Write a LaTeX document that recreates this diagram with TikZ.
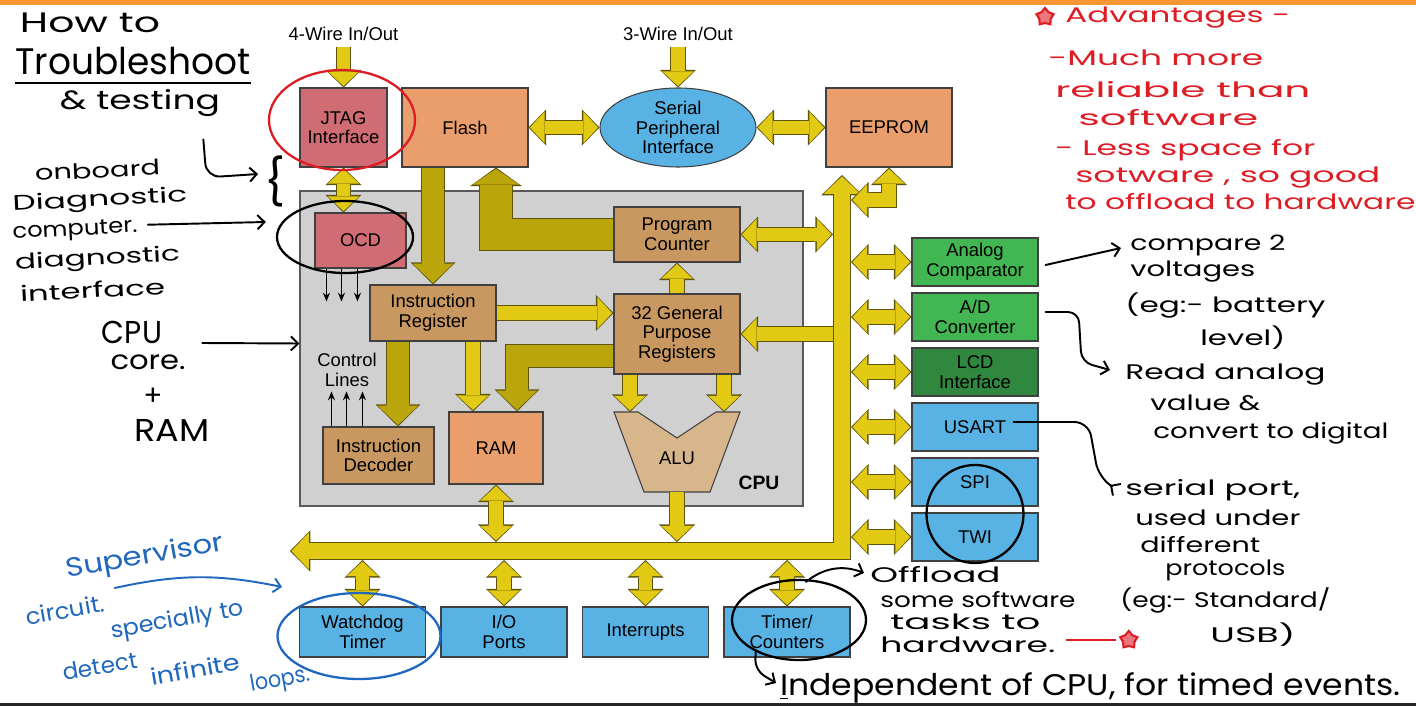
\documentclass[tikz,border=0pt]{standalone}
\usepackage{fontspec}
\usepackage{graphicx}
\setmainfont{Liberation Sans}
\newfontfamily\hand{Poppins}
\usetikzlibrary{arrows.meta,calc,shapes.geometric,positioning}
\definecolor{topbar}{RGB}{247,150,52}
\definecolor{arrowfill}{RGB}{226,201,20}
\definecolor{arrowdark}{RGB}{186,166,12}
\definecolor{arrowedge}{RGB}{95,85,10}
\definecolor{debugred}{RGB}{208,108,115}
\definecolor{memorange}{RGB}{234,158,108}
\definecolor{regtan}{RGB}{200,152,96}
\definecolor{alutan}{RGB}{216,182,140}
\definecolor{perblue}{RGB}{88,178,228}
\definecolor{anagreen}{RGB}{66,182,82}
\definecolor{lcdgreen}{RGB}{48,135,62}
\definecolor{cpugrey}{RGB}{208,208,208}
\definecolor{annored}{RGB}{222,28,36}
\definecolor{annoblue}{RGB}{32,104,190}
\newcommand\hw[2]{\resizebox{#1}{\height}{#2}}
\begin{document}
\begin{tikzpicture}[
      % --- BLOCK STYLES ---
      every node/.style={font=\fontsize{10.5}{11.2}\selectfont},
      blk/.style={rectangle, draw=black!75, line width=0.6pt, align=center, inner sep=1pt, minimum width=2.52cm},
      dbg/.style={blk, fill=debugred},
      mem/.style={blk, fill=memorange, minimum height=1.58cm},
      reg/.style={blk, fill=regtan},
      per/.style={blk, fill=perblue, minimum height=0.96cm},
      ana/.style={blk, fill=anagreen, minimum height=0.96cm},
      low/.style={blk, fill=perblue, minimum height=1.0cm},
      %
      % --- YELLOW DATA PATHS ---
      yhead/.tip={Triangle[width=18pt,length=8.4pt,line width=0pt]},
      yrim/.tip={Triangle[width=20.6pt,length=10pt,line width=0pt]},
      thead/.tip={Triangle[width=23pt,length=11pt,line width=0pt]},
      trim/.tip={Triangle[width=25.6pt,length=12.6pt,line width=0pt]},
      whead/.tip={Triangle[width=27pt,length=9pt,line width=0pt]},
      wrim/.tip={Triangle[width=29.6pt,length=10.6pt,line width=0pt]},
      bhead/.tip={Triangle[width=21pt,length=10pt,line width=0pt]},
      brim/.tip={Triangle[width=23.6pt,length=11.6pt,line width=0pt]},
      pipe/.style={line cap=butt, line join=miter},
      flow/.style={pipe, line width=7.6pt, draw=arrowfill, -yhead, shorten >=0.8pt,
        preaction={draw=arrowedge, line width=8.8pt, shorten >=0pt, -yrim}},
      flow2/.style={pipe, line width=7.6pt, draw=arrowfill, yhead-yhead, shorten >=0.8pt, shorten <=0.8pt,
        preaction={draw=arrowedge, line width=8.8pt, shorten >=0pt, shorten <=0pt, yrim-yrim}},
      heavy/.style={pipe, line width=12.5pt, draw=arrowdark, -thead, shorten >=0.8pt,
        preaction={draw=arrowedge, line width=13.7pt, shorten >=0pt, -trim}},
      wide/.style={pipe, line width=18pt, draw=arrowdark, -whead, shorten >=0.8pt,
        preaction={draw=arrowedge, line width=19.2pt, shorten >=0pt, -wrim}},
      bus/.style={pipe, line width=9pt, draw=arrowfill, bhead-bhead, shorten >=0.8pt, shorten <=0.8pt,
        preaction={draw=arrowedge, line width=10.2pt, shorten >=0pt, shorten <=0pt, brim-brim}},
      wire/.style={draw=black, line width=0.7pt, -{Stealth[length=5pt,width=4pt]}},
      %
      % --- HAND NOTES ---
      ink/.style={font=\hand\fontsize{#1}{#1}\selectfont, inner sep=0pt, text=black},
      redink/.style={ink=#1, text=annored},
      blueink/.style={ink=#1, text=annoblue},
      pen/.style={draw=black, line width=1.1pt, line cap=round, -{Straight Barb[length=4pt,width=8pt]}},
      bluepen/.style={pen, draw=annoblue},
      ring/.style={ellipse, draw=#1, line width=1.3pt, inner sep=0pt}
  ]
    \useasboundingbox (0,0) rectangle (28.32,-14.12);
    \fill[white] (0,0) rectangle (28.32,-14.12);
    \fill[topbar] (0,0) rectangle (28.32,-0.1);
    \fill[black!85] (0,-14.06) rectangle (28.32,-14.12);
    %
    % 1. Outer blocks
    \node (wire4) at (6.87,-0.68) {4-Wire In/Out};
    \node (wire3) at (13.56,-0.68) {3-Wire In/Out};
    \node[dbg, minimum width=1.74cm, minimum height=1.58cm] (jtag) at (6.87,-2.55) {JTAG\\Interface};
    \node[mem] (flash) at (9.30,-2.55) {Flash};
    \node[ellipse, draw=black!75, line width=0.6pt, fill=perblue, minimum width=3.12cm, minimum height=1.58cm, inner sep=0pt, align=center] (spi) at (13.56,-2.55) {Serial\\Peripheral\\Interface};
    \node[mem] (eeprom) at (17.78,-2.55) {EEPROM};
    %
    % 2. CPU core
    \node[rectangle, draw=black!65, line width=0.8pt, fill=cpugrey, minimum width=10.06cm, minimum height=6.3cm] (cpu) at (11.03,-6.97) {};
    \node[dbg, minimum width=1.82cm, minimum height=1.1cm] (ocd) at (7.21,-4.81) {OCD};
    \node[reg, minimum height=1.1cm] (pc) at (13.54,-4.69) {Program\\Counter};
    \node[reg, minimum height=1.12cm] (ir) at (8.66,-6.26) {Instruction\\Register};
    \node[reg, minimum height=1.6cm] (gpr) at (13.54,-6.68) {32 General\\Purpose\\Registers};
    \node[reg, minimum width=2.22cm, minimum height=1.14cm] (id) at (7.57,-9.11) {Instruction\\Decoder};
    \node[blk, fill=memorange, minimum width=1.88cm, minimum height=1.44cm] (ram) at (9.92,-8.96) {RAM};
    \node[align=center] (ctrl) at (6.94,-7.40) {Control\\Lines};
    \filldraw[draw=black!75, line width=0.6pt, fill=alutan] (12.28,-8.24) -- (12.76,-8.24) -- (13.54,-8.76) -- (14.32,-8.24) -- (14.80,-8.24) -- (14.20,-9.84) -- (12.88,-9.84) -- cycle;
    \node (alu) at (13.54,-9.16) {ALU};
    \coordinate (alutop) at (13.54,-8.24);
    \coordinate (alubot) at (13.54,-9.84);
    \node[font=\bfseries\fontsize{11}{12}\selectfont] (cpulabel) at (15.18,-9.66) {CPU};
    %
    % 3. Peripherals
    \node[ana] (ac) at (19.50,-5.24) {Analog\\Comparator};
    \node[ana] (adc) at (19.50,-6.34) {A/D\\Converter};
    \node[ana, fill=lcdgreen] (lcd) at (19.50,-7.44) {LCD\\Interface};
    \node[per] (usart) at (19.50,-8.54) {USART};
    \node[per] (spiport) at (19.50,-9.64) {SPI};
    \node[per] (twi) at (19.50,-10.74) {TWI};
    \node[low] (wdt) at (7.25,-12.64) {Watchdog\\Timer};
    \node[low] (io) at (10.08,-12.64) {I/O\\Ports};
    \node[low] (irq) at (12.91,-12.64) {Interrupts};
    \node[low] (timer) at (15.74,-12.64) {Timer/\\Counters};
    %
    % 4. Main bus
    \coordinate (busleft) at (5.80,-11.02);
    \coordinate (buscorner) at (16.84,-11.02);
    \coordinate (bustop) at (16.84,-3.50);
    \coordinate (busL) at (16.66,-3.50);
    \coordinate (busR) at (17.02,-3.50);
    \coordinate (busT) at (5.80,-10.84);
    \coordinate (busB) at (5.80,-11.20);
    \draw[bus] (busleft) -- (buscorner) -- (bustop);
    %
    % 5. Links outside the core
    \draw[flow] (wire4.south) -- (jtag.north);
    \draw[flow] (wire3.south) -- (spi.north);
    \draw[flow2] (jtag.south) -- (jtag.south |- ocd.north);
    \draw[flow2] (flash.east) -- (spi.west);
    \draw[flow2] (spi.east) -- (eeprom.west);
    \coordinate (eetap) at (17.02,-4.0);
    \draw[flow2] (eetap) -| (eeprom.south);
    %
    % 6. Links inside the core
    \draw[heavy] (ir.north |- flash.south) -- (ir.north);
    \draw[wide] (pc.west) -| ($(flash.south)+(0.62,0)$);
    \draw[flow] (pc.south |- gpr.north) -- (pc.south);
    \draw[flow] (ir.east) -- (ir.east -| gpr.west);
    \draw[heavy] ($(ir.south)+(-0.7,0)$) coordinate (irtapA) -- (irtapA |- id.north);
    \draw[flow] ($(ir.south)+(0.8,0)$) coordinate (irtapB) -- (irtapB |- ram.north);
    \draw[heavy] ($(gpr.west)+(0,-0.44)$) -| ($(ram.north)+(0.42,0)$);
    \draw[flow] ($(gpr.south)+(-0.94,0)$) coordinate (gtapA) -- (gtapA |- alutop);
    \draw[flow] ($(gpr.south)+(0.94,0)$) coordinate (gtapB) -- (gtapB |- alutop);
    \draw[flow] (alubot) -- (alubot |- busT);
    \draw[flow2] (ram.south) -- (ram.south |- busT);
    \draw[flow2] (pc.east) -- (pc.east -| busL);
    \draw[flow] (gpr.east -| busL) -- (gpr.east);
    \foreach \dx in {0.24,0.54,0.86}
      \draw[wire] ($(ocd.south west)+(\dx,0)$) -- ++(0,-0.66);
    \foreach \dx in {0.18,0.48,0.80}
      \draw[wire] ($(id.north west)+(\dx,0)$) -- ++(0,0.7);
    %
    % 7. Links to peripherals
    \foreach \p in {ac,adc,lcd,usart,spiport,twi}
      \draw[flow2] (\p.west -| busR) -- (\p.west);
    \foreach \p in {wdt,io,irq,timer}
      \draw[flow2] (\p.north |- busB) -- (\p.north);
    %
    % 8. Hand notes, left
    \node[ink=16] (howto) at (1.8,-0.46) {\hw{2.8cm}{How to}};
    \node[ink=21] (trouble) at (2.66,-1.22) {\hw{4.7cm}{Troubleshoot}};
    \draw[draw=black, line width=1.2pt] ($(trouble.south west)+(0,-0.16)$) -- ($(trouble.south east)+(0,-0.16)$);
    \node[ink=15] (testing) at (2.8,-2.06) {\hw{3.2cm}{\& testing}};
    \node[ink=26] (brace) at (5.5,-3.62) {\{};
    \draw[pen, rounded corners=8pt] ($(testing.south east)+(-0.34,-0.45)$) -- ++(0.06,-0.76) -- ($(brace.west)+(-0.12,0.14)$);
    \node[ink=12, rotate=3] (onboard) at (1.95,-3.4) {\hw{2.5cm}{onboard}};
    \node[ink=12, rotate=3] (diag) at (2.0,-4.02) {\hw{3.5cm}{Diagnostic}};
    \node[ink=12, rotate=3] (computer) at (1.5,-4.62) {\hw{2.5cm}{computer.}};
    \node[ink=12, rotate=3] (diag2) at (1.95,-5.2) {\hw{3.3cm}{diagnostic}};
    \node[ink=12, rotate=3] (iface) at (1.85,-5.8) {\hw{2.9cm}{interface}};
    \node[ring=black, minimum width=2.72cm, minimum height=1.44cm] (ocdring) at (6.90,-4.74) {};
    \node[ring=annored, minimum width=2.92cm, minimum height=2.0cm] (jtagring) at (6.84,-2.40) {};
    \draw[pen] ($(computer.east)+(0.2,0.06)$) -- ($(ocdring.west)+(-0.2,0.3)$);
    \node[ink=18] (cpunote) at (2.64,-6.64) {\hw{1.2cm}{CPU}};
    \node[ink=15] (core) at (2.96,-7.24) {\hw{1.5cm}{core.}};
    \node[ink=16] (plus) at (3.06,-7.94) {+};
    \node[ink=18] (ramnote) at (3.44,-8.6) {\hw{1.5cm}{RAM}};
    \draw[pen] ($(cpunote.east)+(0.8,-0.22)$) -- ($(cpu.west)+(0,0.1)$);
    %
    % 9. Hand notes, bottom left (blue)
    \node[blueink=15, rotate=10] (superv) at (2.9,-11.15) {\hw{3.2cm}{Supervisor}};
    \node[blueink=13, rotate=10] (circuit) at (1.3,-12.2) {\hw{1.6cm}{circuit.}};
    \node[blueink=13, rotate=10] (special) at (3.55,-12.42) {\hw{2.7cm}{specially to}};
    \node[blueink=13, rotate=10] (detect) at (2.0,-13.32) {\hw{1.5cm}{detect}};
    \node[blueink=13, rotate=10] (infinite) at (3.9,-13.38) {\hw{1.8cm}{infinite}};
    \node[blueink=13, rotate=10] (loops) at (5.6,-13.62) {\hw{1.2cm}{loops.}};
    \node[ring=annoblue, minimum width=3.26cm, minimum height=1.72cm] (wdtring) at (7.18,-12.72) {};
    \coordinate (supvtip) at (5.64,-11.74);
    \draw[bluepen] ($(circuit.east)+(0.2,0.3)$) to[bend left=12] (supvtip);
    %
    % 10. Hand notes, right (red)
    \node[star, star points=5, draw=annored, line width=1.2pt, fill=annored!60, minimum size=0.36cm, inner sep=0pt] (star1) at (20.9,-0.34) {};
    \node[redink=12, anchor=west] (adv) at (21.3,-0.36) {\hw{4.5cm}{Advantages -}};
    \node[redink=12, anchor=west] (adv1) at (20.96,-1.16) {\hw{4.3cm}{-Much more}};
    \node[redink=12, anchor=west] (adv2) at (21.1,-1.8) {\hw{5.1cm}{reliable than}};
    \node[redink=12, anchor=west] (adv3) at (21.56,-2.36) {\hw{3.6cm}{software}};
    \node[redink=12, anchor=west] (adv4) at (21.1,-3.0) {\hw{5.2cm}{- Less space for}};
    \node[redink=12, anchor=west] (adv5) at (21.5,-3.56) {\hw{6.1cm}{sotware , so good}};
    \node[redink=12, anchor=west] (adv6) at (21.3,-4.04) {\hw{7.0cm}{to offload to hardware}};
    %
    % 11. Hand notes, right (black)
    \node[ink=12, anchor=west] (cmp1) at (22.6,-4.9) {\hw{3.1cm}{compare 2}};
    \node[ink=12, anchor=west] (cmp2) at (22.6,-5.44) {\hw{2.5cm}{voltages}};
    \node[ink=12, anchor=west] (cmp3) at (22.5,-6.1) {\hw{4.0cm}{(eg:- battery}};
    \node[ink=12, anchor=west] (cmp4) at (24.0,-6.76) {\hw{1.7cm}{level)}};
    \draw[pen] ($(ac.east)+(0.14,-0.06)$) -- ($(cmp1.west)+(-0.18,-0.06)$);
    \node[ink=12, anchor=west] (rd1) at (22.5,-7.5) {\hw{4.0cm}{Read analog}};
    \node[ink=12, anchor=west] (rd2) at (23.0,-8.06) {\hw{2.2cm}{value \&}};
    \node[ink=12, anchor=west] (rd3) at (23.06,-8.66) {\hw{4.7cm}{convert to digital}};
    \draw[pen, rounded corners=6pt] ($(adc.east)+(0.14,0.1)$) -- ++(0.66,0) -- ++(0.06,-1.0) -- ($(rd1.west)+(-0.3,0.1)$);
    \node[ink=12, anchor=west] (ser1) at (22.5,-9.8) {\hw{3.5cm}{serial port,}};
    \node[ink=12, anchor=west] (ser2) at (22.7,-10.36) {\hw{3.3cm}{used under}};
    \node[ink=12, anchor=west] (ser3) at (22.8,-10.9) {\hw{2.4cm}{different}};
    \node[ink=12, anchor=west] (ser4) at (23.3,-11.4) {\hw{2.4cm}{protocols}};
    \node[ink=12, anchor=west] (ser5) at (22.4,-12.0) {\hw{4.2cm}{(eg:- Standard/}};
    \node[ink=12, anchor=west] (ser6) at (24.2,-12.7) {\hw{1.7cm}{USB)}};
    \draw[pen, rounded corners=8pt] ($(usart.east)+(-0.5,0.1)$) -- ++(1.5,0) -- ++(0.2,-1.1) -- ($(ser1.west)+(-0.3,0.1)$);
    \node[ring=black, minimum width=1.94cm, minimum height=1.96cm] (serring) at (19.5,-10.28) {};
    %
    % 12. Hand notes, bottom right
    \node[ring=black, minimum width=2.68cm, minimum height=1.6cm] (timerring) at (15.98,-12.4) {};
    \node[ink=12, anchor=west] (off1) at (17.4,-11.5) {\hw{2.6cm}{Offload}};
    \node[ink=12, anchor=west] (off2) at (17.6,-12.0) {\hw{3.9cm}{some software}};
    \node[ink=12, anchor=west] (off3) at (17.8,-12.44) {\hw{3.0cm}{tasks to}};
    \node[ink=12, anchor=west] (off4) at (17.6,-12.9) {\hw{3.5cm}{hardware.}};
    \draw[pen] ($(timerring.north)+(0.14,-0.06)$) to[bend left=30] ($(off1.west)+(-0.12,0.04)$);
    \draw[draw=annored, line width=1.2pt] ($(off4.east)+(0.2,0.1)$) -- ++(1.0,0) coordinate (redend);
    \node[star, star points=5, draw=annored, line width=1.2pt, fill=annored!60, minimum size=0.36cm, inner sep=0pt, right=0.1cm of redend] (star2) {};
    \node[ink=17, anchor=west] (indep) at (15.6,-13.76) {\hw{12.4cm}{\underline{I}ndependent of CPU, for timed events.}};
    \draw[pen, rounded corners=6pt] ($(timerring.south west)+(0.1,-0.02)$) -- ++(-0.02,-0.4) -- ($(indep.west)+(-0.08,0.1)$);
\end{tikzpicture}
\end{document}
